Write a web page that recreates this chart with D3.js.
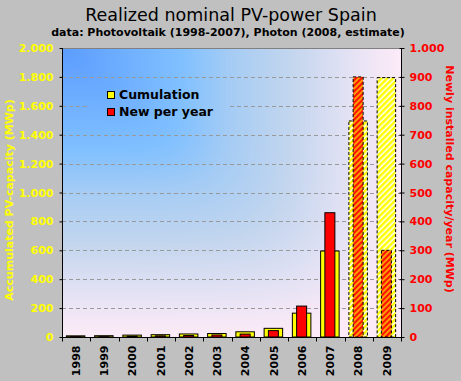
<!DOCTYPE html>
<html><head><meta charset="utf-8">
<script src="https://cdn.jsdelivr.net/npm/d3@7"></script>
<style>html,body{margin:0;padding:0;background:#c0c0c0;}svg{display:block;}</style>
</head><body>
<script>
const years = ["1998","1999","2000","2001","2002","2003","2004","2005","2006","2007","2008","2009"];
const cumulation = [8, 9, 13, 16, 21, 24, 36, 60, 165, 595, 1495, 1795];
const newPerYear = [1, 1, 3, 4, 5, 7, 10, 22, 107, 430, 900, 300];
const estimated = [false,false,false,false,false,false,false,false,false,false,true,true];
const leftTicks = [0,200,400,600,800,1000,1200,1400,1600,1800,2000];
const rightTicks = [0,100,200,300,400,500,600,700,800,900,1000];
const title = "Realized nominal PV-power Spain";
const subtitle = "data: Photovoltaik (1998-2007), Photon (2008, estimate)";
const leftTitle = "Accumulated PV-capacity (MWp)";
const rightTitle = "Newly installed capacity/year (MWp)";
const legendLabels = ["Cumulation", "New per year"];

const W = 461, H = 381;
const m = {l: 62, r: 401, t: 48, b: 337};
const svg = d3.select("body").append("svg").attr("width", W).attr("height", H);
svg.append("rect").attr("width", W).attr("height", H).attr("fill", "#c0c0c0");

const defs = svg.append("defs");

// background gradient image (corner-anchored, squarish falloff)
const stops = [[0,"#5c9cff"],[0.35,"#80c0ff"],[0.5,"#a6ccf4"],[0.68,"#c4d6ee"],[0.85,"#e4e2f4"],[0.95,"#f6e8f6"],[1,"#fceaf8"]];
const cs = d3.scaleLinear().domain(stops.map(s => s[0])).range(stops.map(s => s[1])).clamp(true);
const pw = m.r - m.l, ph = m.b - m.t;
const cv = document.createElement("canvas"); cv.width = pw; cv.height = ph;
const ctx = cv.getContext("2d");
const img = ctx.createImageData(pw, ph);
for (let j = 0; j < ph; j++) for (let i = 0; i < pw; i++) {
  const u = i / pw, v = j / ph;
  const t = Math.pow(Math.pow(u, 6) + Math.pow(v, 6), 1 / 6);
  const c = d3.rgb(cs(t));
  const k = (j * pw + i) * 4;
  img.data[k] = c.r; img.data[k + 1] = c.g; img.data[k + 2] = c.b; img.data[k + 3] = 255;
}
ctx.putImageData(img, 0, 0);
const url = cv.toDataURL();
const bp = defs.append("pattern").attr("id", "bg").attr("patternUnits", "userSpaceOnUse")
  .attr("x", 0).attr("y", 0).attr("width", W).attr("height", H);
bp.append("image").attr("x", m.l).attr("y", m.t).attr("width", pw).attr("height", ph).attr("href", url);

function hatch(id, bg, fg, w) {
  const p = defs.append("pattern").attr("id", id).attr("patternUnits", "userSpaceOnUse")
    .attr("width", 4).attr("height", 4).attr("patternTransform", "rotate(45)");
  p.append("rect").attr("width", 4).attr("height", 4).attr("fill", bg);
  p.append("rect").attr("width", w).attr("height", 4).attr("fill", fg);
}
hatch("hy", "#ffffff", "#ffff00", 2.5);
hatch("hr", "#ff1000", "#ff9a00", 2);

const x = d3.scaleBand().domain(years).range([m.l, m.r]);
const yL = d3.scaleLinear().domain([0, 2000]).range([m.b, m.t]);
const yR = d3.scaleLinear().domain([0, 1000]).range([m.b, m.t]);
const fmt = v => d3.format(",")(v).replace(/,/g, ".");

svg.append("rect").attr("x", m.l).attr("y", m.t).attr("width", pw).attr("height", ph).attr("fill", "url(#bg)");

// grid
svg.append("g").selectAll("line").data(leftTicks.filter(v => v > 0 && v < 2000)).join("line")
  .attr("x1", m.l).attr("x2", m.r).attr("y1", d => Math.round(yL(d)) + 0.5).attr("y2", d => Math.round(yL(d)) + 0.5)
  .attr("stroke", "#999").attr("stroke-dasharray", "4,3");
svg.append("line").attr("x1", m.l).attr("x2", m.r).attr("y1", m.t + 0.5).attr("y2", m.t + 0.5).attr("stroke", "#808080");

// legend (box filled with the plot background hides gridlines)
const lg = svg.append("g");
lg.append("rect").attr("x", 89).attr("y", 82).attr("width", 141).attr("height", 40).attr("fill", "url(#bg)");
const lc = ["#ffff00", "#ff0000"];
legendLabels.forEach((t, i) => {
  lg.append("rect").attr("x", 107.5).attr("y", 91.5 + i * 17).attr("width", 7).attr("height", 7)
    .attr("fill", lc[i]).attr("stroke", "#000");
  lg.append("text").attr("x", 119).attr("y", 99 + i * 17).text(t)
    .attr("font-family", "DejaVu Sans").attr("font-weight", "bold").attr("font-size", 12.5).attr("fill", "#000");
});

// bars
const bw1 = 18.5, bw2 = 10;
svg.append("g").selectAll("rect").data(years).join("rect")
  .attr("x", d => x(d) + x.bandwidth() / 2 - bw1 / 2 - 0.5)
  .attr("y", (d, i) => yL(cumulation[i]))
  .attr("width", bw1)
  .attr("height", (d, i) => m.b - yL(cumulation[i]))
  .attr("fill", (d, i) => estimated[i] ? "url(#hy)" : "#ffff00")
  .attr("stroke", "#000").attr("stroke-width", 1)
  .attr("stroke-dasharray", (d, i) => estimated[i] ? "3,2" : null);
svg.append("g").selectAll("rect").data(years).join("rect")
  .attr("x", d => x(d) + x.bandwidth() / 2 - bw2 / 2 - 0.5)
  .attr("y", (d, i) => yR(newPerYear[i]))
  .attr("width", bw2)
  .attr("height", (d, i) => m.b - yR(newPerYear[i]))
  .attr("fill", (d, i) => estimated[i] ? "url(#hr)" : "#ff0000")
  .attr("stroke", "#000").attr("stroke-width", 1)
  .attr("stroke-dasharray", (d, i) => estimated[i] ? "3,2" : null);

// axes
const axL = svg.append("g").attr("transform", `translate(${m.l + 0.5},0)`)
  .call(d3.axisLeft(yL).tickValues(leftTicks).tickFormat(fmt).tickSize(3).tickPadding(6));
axL.selectAll("text").attr("fill", "#ffff00");
const axR = svg.append("g").attr("transform", `translate(${m.r + 0.5},0)`)
  .call(d3.axisRight(yR).tickValues(rightTicks).tickFormat(fmt).tickSize(3).tickPadding(5));
axR.selectAll(".tick line").attr("x1", -2);
axR.selectAll("text").attr("fill", "#ff0000");
const axB = svg.append("g").attr("transform", `translate(0,${m.b + 0.5})`)
  .call(d3.axisBottom(x).tickSize(0).tickPadding(0));
axB.selectAll(".tick text").attr("transform", "rotate(-90)").attr("text-anchor", "end")
  .attr("x", -8).attr("y", 0).attr("dy", "0.35em").attr("fill", "#000");
axB.append("g").selectAll("line").data(years.concat(["end"])).join("line")
  .attr("x1", (d, i) => Math.round(m.l + i * x.step()) + 0.5).attr("x2", (d, i) => Math.round(m.l + i * x.step()) + 0.5)
  .attr("y1", 0).attr("y2", 4).attr("stroke", "#000");
[axL, axR, axB].forEach(a => {
  a.selectAll("text").attr("font-family", "DejaVu Sans").attr("font-weight", "bold").attr("font-size", 11);
  a.selectAll("path.domain").attr("stroke", "#000");
  a.selectAll(".tick line").attr("stroke", "#000");
});
axL.select("path.domain").attr("d", `M0,${m.t}V${m.b}`);
axR.select("path.domain").attr("d", `M0,${m.t}V${m.b}`);
axB.select("path.domain").attr("d", `M${m.l},0H${m.r + 1}`);

// titles
svg.append("text").attr("x", 231).attr("y", 21).attr("text-anchor", "middle").text(title)
  .attr("font-family", "DejaVu Sans").attr("font-size", 17.5).attr("fill", "#000");
svg.append("text").attr("x", 228).attr("y", 36).attr("text-anchor", "middle").text(subtitle)
  .attr("font-family", "DejaVu Sans").attr("font-weight", "bold").attr("font-size", 11).attr("fill", "#000");
svg.append("text").attr("transform", "translate(13,200) rotate(-90)").attr("text-anchor", "middle").text(leftTitle)
  .attr("font-family", "DejaVu Sans").attr("font-weight", "bold").attr("font-size", 11).attr("fill", "#ffff00");
svg.append("text").attr("transform", "translate(446,179) rotate(90)").attr("text-anchor", "middle").text(rightTitle)
  .attr("font-family", "DejaVu Sans").attr("font-weight", "bold").attr("font-size", 11).attr("fill", "#ff0000");
</script>
</body></html>
